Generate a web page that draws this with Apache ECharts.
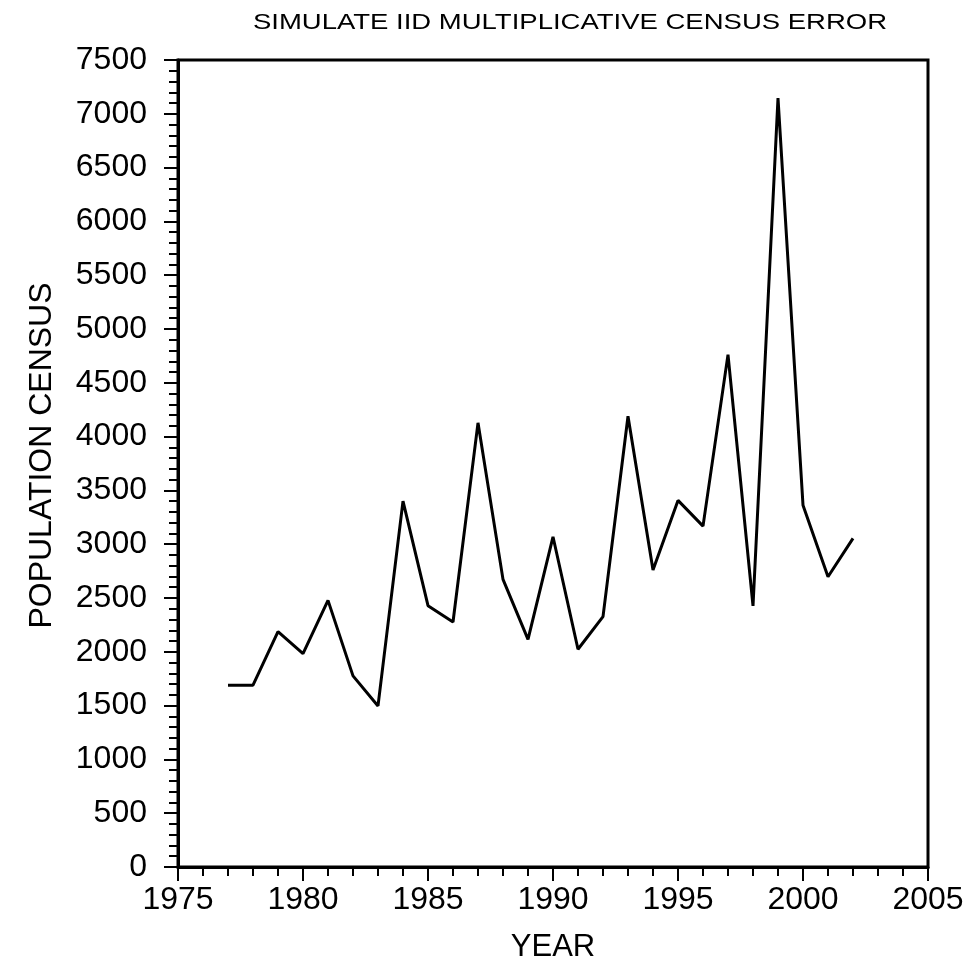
<!DOCTYPE html>
<html lang="en">
<head>
  <meta charset="UTF-8">
  <title>Census error</title>
  <script src="https://cdn.jsdelivr.net/npm/echarts@6/dist/echarts.min.js"></script>
  <style>
    html, body { margin: 0; padding: 0; background: #fff; }
  </style>
</head>
<body>
<div id="main" style="width: 974px;height:968px;"></div>
<script type="text/javascript">
  const years = [1977, 1978, 1979, 1980, 1981, 1982, 1983, 1984, 1985, 1986, 1987, 1988, 1989,
    1990, 1991, 1992, 1993, 1994, 1995, 1996, 1997, 1998, 1999, 2000, 2001, 2002]
  const census = [1690, 1690, 2188, 1983, 2478, 1776, 1497, 3400, 2429, 2277, 4128, 2673, 2116,
    3069, 2024, 2327, 4189, 2760, 3407, 3168, 4762, 2426, 7145, 3363, 2698, 3054]
  const titleText = 'SIMULATE IID MULTIPLICATIVE CENSUS ERROR'

  const font = 'Liberation Sans'
  const chart = echarts.init(document.getElementById('main'))

  const option = {
    animation: false,
    // title drawn as a graphic so it can be stretched wide like the original
    graphic: [
      {
        type: 'text',
        x: 570,
        y: 12,
        scaleX: 1.25,
        style: {
          text: titleText,
          font: '22px "Liberation Sans"',
          fill: '#000',
          textAlign: 'center',
          textVerticalAlign: 'top'
        }
      }
    ],
    grid: {
      left: 178, right: 46, top: 60, bottom: 100,
      show: true, borderColor: '#000', borderWidth: 3
    },
    xAxis: {
      type: 'value',
      min: 1975, max: 2005, interval: 5,
      name: 'YEAR',
      nameLocation: 'middle',
      nameGap: 65,
      nameTextStyle: {fontFamily: font, fontSize: 31, color: '#000'},
      axisLine: {lineStyle: {color: '#000', width: 3}},
      axisTick: {length: 14, lineStyle: {color: '#000', width: 2}},
      minorTick: {show: true, splitNumber: 5, length: 9, lineStyle: {color: '#000', width: 2}},
      splitLine: {show: false},
      axisLabel: {fontFamily: font, fontSize: 32, color: '#000', margin: 17, formatter: v => String(v)}
    },
    yAxis: {
      type: 'value',
      min: 0, max: 7500, interval: 500,
      name: 'POPULATION CENSUS',
      nameLocation: 'middle',
      nameGap: 120,
      nameTextStyle: {fontFamily: font, fontSize: 32, color: '#000', padding: [0, 0, 0, 16]},
      axisLine: {lineStyle: {color: '#000', width: 3}},
      axisTick: {length: 14, lineStyle: {color: '#000', width: 2}},
      minorTick: {show: true, splitNumber: 5, length: 9, lineStyle: {color: '#000', width: 2}},
      splitLine: {show: false},
      axisLabel: {fontFamily: font, fontSize: 32, color: '#000', margin: 31, formatter: v => String(v)}
    },
    series: [
      {
        type: 'line',
        data: years.map((y, i) => [y, census[i]]),
        showSymbol: false,
        lineStyle: {color: '#000', width: 3},
        itemStyle: {color: '#000'}
      }
    ]
  }

  chart.setOption(option)
</script>
</body>
</html>
